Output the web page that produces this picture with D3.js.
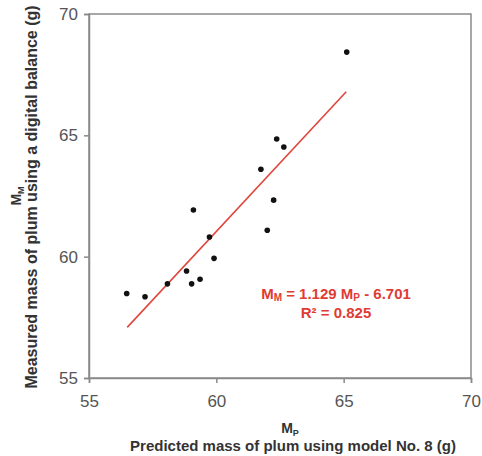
<!DOCTYPE html>
<html>
<head>
<meta charset="utf-8">
<script src="https://cdn.jsdelivr.net/npm/d3@7"></script>
<style>
  body { margin: 0; background: #fff; }
  text { font-family: "Liberation Sans", Arial, sans-serif; }
</style>
</head>
<body>
<div id="chart"></div>
<script>
const ancho = 482;
const alto = 456;

// valores
const predicho = [65.12, 62.37, 62.65, 61.75, 62.25, 59.1, 62.0, 59.73, 59.91, 58.83, 59.36, 59.03, 58.08, 56.48, 57.2];
const medido   = [68.43, 64.85, 64.52, 63.6, 62.33, 61.92, 61.09, 60.81, 59.93, 59.41, 59.07, 58.88, 58.88, 58.48, 58.35];
const ticksX = [55, 60, 65, 70];
const ticksY = [55, 60, 65, 70];
const pendiente = 1.129;
const intercepto = -6.701;
const rangoRecta = [56.5, 65.1];

const margen = { top: 14, right: 11, bottom: 78, left: 89 };

const svg = d3.select("#chart")
  .append("svg")
  .attr("width", ancho)
  .attr("height", alto);

const x = d3.scaleLinear().domain([55, 70]).range([margen.left, ancho - margen.right]);
const y = d3.scaleLinear().domain([55, 70]).range([alto - margen.bottom, margen.top]);

const gris = "#8a8a8a";

// marco
svg.append("rect")
  .attr("x", x(55)).attr("y", y(70))
  .attr("width", x(70) - x(55)).attr("height", y(55) - y(70))
  .attr("fill", "none").attr("stroke", gris).attr("stroke-width", 1.5);

const ejeX = svg.append("g")
  .attr("transform", `translate(0,${y(55)})`)
  .call(d3.axisBottom(x).tickValues(ticksX).tickSize(5).tickPadding(12));

const ejeY = svg.append("g")
  .attr("transform", `translate(${x(55)},0)`)
  .call(d3.axisLeft(y).tickValues(ticksY).tickSize(5).tickPadding(6));

[ejeX, ejeY].forEach(g => {
  g.select(".domain").attr("stroke", gris).attr("stroke-width", 1.5);
  g.selectAll(".tick line").attr("stroke", gris).attr("stroke-width", 1.5);
  g.selectAll(".tick text")
    .attr("fill", "#555")
    .style("font-size", "17px")
    .style("font-family", "'Liberation Sans', Arial, sans-serif");
});

// recta de regresion
svg.append("path")
  .datum(rangoRecta)
  .attr("fill", "none")
  .attr("stroke", "#e0463c")
  .attr("stroke-width", 1.6)
  .attr("d", d3.line()
    .x(d => x(d))
    .y(d => y(pendiente * d + intercepto)));

// puntos
svg.selectAll(".punto")
  .data(predicho.map((p, i) => ({ p, m: medido[i] })))
  .enter()
  .append("circle")
  .attr("class", "punto")
  .attr("cx", d => x(d.p))
  .attr("cy", d => y(d.m))
  .attr("r", 2.8)
  .attr("fill", "#111");

// ecuacion
const rojo = "#df3b34";
const eq = svg.append("text")
  .attr("x", 336).attr("y", 299)
  .attr("text-anchor", "middle")
  .attr("fill", rojo)
  .style("font-size", "15px")
  .style("font-weight", "bold");
eq.append("tspan").text("M");
eq.append("tspan").text("M").attr("dy", 2).style("font-size", "10px");
eq.append("tspan").text(" = 1.129 M").attr("dy", -2);
eq.append("tspan").text("P").attr("dy", 2).style("font-size", "10px");
eq.append("tspan").text(" - 6.701").attr("dy", -2);

svg.append("text")
  .attr("x", 336).attr("y", 318)
  .attr("text-anchor", "middle")
  .attr("fill", rojo)
  .style("font-size", "15px")
  .style("font-weight", "bold")
  .text("R² = 0.825");

// titulo eje X
const tx = svg.append("text")
  .attr("x", 290).attr("y", 433)
  .attr("text-anchor", "middle")
  .attr("fill", "#333")
  .style("font-size", "14px")
  .style("font-weight", "bold");
tx.append("tspan").text("M");
tx.append("tspan").text("P").attr("dy", 3).style("font-size", "9px");

svg.append("text")
  .attr("x", 293).attr("y", 451)
  .attr("text-anchor", "middle")
  .attr("fill", "#333")
  .style("font-size", "15px")
  .style("font-weight", "bold")
  .text("Predicted mass of plum using model No. 8 (g)");

// titulo eje Y
const ty = svg.append("text")
  .attr("transform", "translate(21,196) rotate(-90)")
  .attr("text-anchor", "middle")
  .attr("fill", "#333")
  .style("font-size", "14px")
  .style("font-weight", "bold");
ty.append("tspan").text("M");
ty.append("tspan").text("M").attr("dy", 3).style("font-size", "9px");

svg.append("text")
  .attr("transform", "translate(37,197) rotate(-90)")
  .attr("text-anchor", "middle")
  .attr("fill", "#333")
  .style("font-size", "16px")
  .style("font-weight", "bold")
  .text("Measured mass of plum using a digital balance (g)");
</script>
</body>
</html>
